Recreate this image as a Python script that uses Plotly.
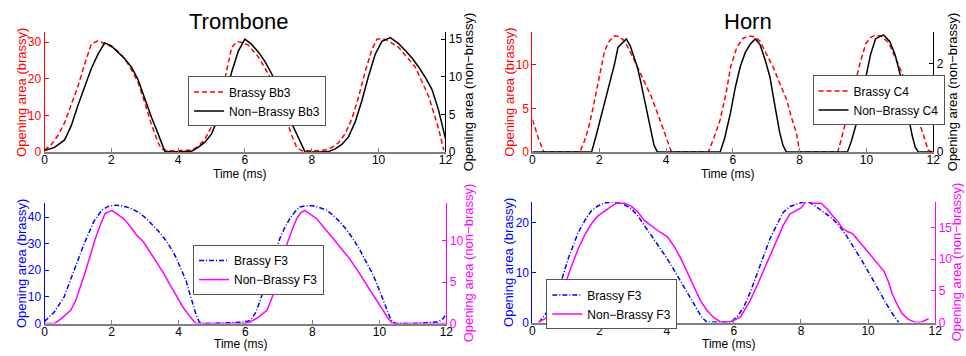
import plotly.graph_objects as go

# ---------------- Trombone, Bb3 ----------------
tb_bb3_brassy_t = [0, 0.2, 0.4, 0.6, 0.8, 1.0, 1.2, 1.4, 1.6, 1.8, 2.0, 2.2, 2.4, 2.6, 2.8, 3.0, 3.2, 3.4, 3.5,
                   3.7, 4.0, 4.4, 4.6, 4.8, 5.0, 5.2, 5.4, 5.6, 5.75, 5.9, 6.1, 6.4, 6.8, 7.0, 7.2, 7.4, 7.55,
                   7.7, 8.0, 8.4, 8.6, 8.8, 9.0, 9.2, 9.4, 9.6, 9.8, 9.95, 10.1, 10.25, 10.6, 11.1, 11.5, 11.8, 11.95]
tb_bb3_brassy = [0.5, 2, 4.5, 8, 13, 18, 24, 29.5, 30.4, 29.7, 28.8, 27.5, 25.5, 22.5, 19, 13.5, 7.5, 2.5, 0.8,
                 0.3, 0.3, 0.5, 1.5, 3.5, 7, 12.5, 20, 28.5, 30.2, 30, 29.2, 26, 19.7, 15.5, 10, 4.5, 1.2,
                 0.3, 0.3, 0.5, 1.2, 2.5, 5, 9, 15, 22, 28, 30.8, 31, 30.6, 28.6, 23.2, 15.2, 6.2, 0.5]

tb_bb3_plain_t = [0, 0.3, 0.6, 0.8, 1.0, 1.2, 1.4, 1.6, 1.8, 2.0, 2.2, 2.4, 2.6, 2.8, 3.0, 3.2, 3.4, 3.6, 3.8,
                  4.2, 4.4, 4.6, 4.8, 5.0, 5.2, 5.4, 5.6, 5.8, 6.0, 6.2, 6.4, 6.6, 6.8, 7.0, 7.2, 7.4, 7.6, 7.8,
                  8.2, 8.5, 8.7, 8.9, 9.1, 9.3, 9.5, 9.7, 9.9, 10.1, 10.35, 10.6, 10.8, 11.0, 11.2, 11.4, 11.6,
                  11.8, 12.0]
tb_bb3_plain = [0.2, 0.6, 1.6, 3.5, 6.2, 8.7, 11.1, 13, 14.5, 14.1, 13.3, 12.4, 11.3, 9.6, 7.1, 4.6, 2.4, 0.1, 0,
                0, 0.1, 0.6, 1.3, 2.4, 4.5, 7.3, 10.6, 13.4, 15, 14.3, 13.3, 12, 10.4, 8.3, 6.2, 3.8, 1.8, 0,
                0, 0.05, 0.4, 1, 2, 4, 6.8, 10.1, 13, 14.7, 15.2, 14.4, 13.5, 12.5, 11.3, 9.9, 8.3,
                5.5, 1.8]

# ---------------- Horn, C4 ----------------
hn_c4_brassy_t = [0, 0.1, 0.2, 0.34, 1.42, 1.55, 1.67, 1.8, 1.92, 2.05, 2.16, 2.3, 2.46, 2.6, 2.76, 2.95, 3.15,
                  3.35, 3.55, 3.7, 3.84, 4.0, 4.14, 4.2, 5.27, 5.45, 5.62, 5.8, 5.93, 6.12, 6.3, 6.47, 6.65,
                  6.81, 7.0, 7.21, 7.4, 7.61, 7.75, 7.9, 8.0, 9.14, 9.25, 9.38, 9.53, 9.68, 9.83, 9.98, 10.12,
                  10.27, 10.47, 10.67, 10.9, 11.16, 11.35, 11.56, 11.7, 11.85, 11.95]
hn_c4_brassy = [3.7, 2.5, 1.3, 0, 0, 1.2, 2.6, 4.8, 7.1, 9.5, 11.6, 12.7, 13.3, 13.2, 12.7, 11.3, 9.7,
                8.1, 6.4, 4.9, 3.4, 1.6, 0.2, 0, 0, 1.8, 3.7, 6.8, 9.7, 12, 13, 13.3, 13.2,
                12.7, 11.3, 9.7, 7.9, 6, 4, 2.2, 0, 0, 1.5, 3.4, 5.8, 8.2, 10.5, 12.4, 13.1,
                13.4, 13.2, 12.5, 10.5, 8.2, 6, 3.7, 2, 0.2, 0]

hn_c4_plain_t = [0, 1.77, 1.9, 2.06, 2.2, 2.36, 2.46, 2.56, 2.68, 2.81, 2.93, 3.05, 3.15, 3.25, 3.35, 3.45,
                 3.55, 3.64, 3.74, 5.62, 5.75, 5.93, 6.07, 6.22, 6.37, 6.52, 6.67, 6.81, 6.96, 7.11, 7.2, 7.3,
                 7.4, 7.5, 7.6, 9.43, 9.55, 9.68, 9.83, 9.98, 10.12, 10.27, 10.4, 10.52, 10.7, 10.86, 10.95,
                 11.05, 11.15, 11.26, 11.36, 11.46, 11.55, 12]
hn_c4_plain = [0, 0, 0.35, 0.81, 1.25, 1.7, 2.0, 2.37, 2.45, 2.56, 2.4, 2.15, 1.9, 1.56, 1.2, 0.82,
               0.45, 0.15, 0, 0, 0.3, 0.89, 1.45, 1.93, 2.25, 2.44, 2.56, 2.44, 2.1, 1.7, 1.3, 0.89,
               0.45, 0.15, 0, 0, 0.25, 0.6, 1.15, 1.7, 2.2, 2.56, 2.62, 2.65, 2.5, 2.2, 1.95,
               1.63, 1.25, 0.82, 0.4, 0.11, 0, 0]

# ---------------- Trombone, F3 ----------------
tb_f3_brassy_t = [0, 0.29, 0.58, 0.88, 1.17, 1.47, 1.71, 1.9, 2.06, 2.25, 2.45, 2.65, 2.85, 3.05, 3.24, 3.44,
                  3.64, 3.8, 3.93, 4.08, 4.23, 4.33, 4.43, 4.52, 4.62, 4.75, 5.0, 5.5, 5.85, 6.0, 6.15, 6.3,
                  6.44, 6.6, 6.74, 6.9, 7.03, 7.18, 7.33, 7.48, 7.63, 7.8, 8.02, 8.2, 8.42, 8.6, 8.81, 9.0,
                  9.2, 9.4, 9.6, 9.75, 9.89, 10.04, 10.19, 10.3, 10.38, 10.5, 11.0, 11.5, 11.76, 11.9, 12.0]
tb_f3_brassy = [0.8, 4.3, 9.9, 19.7, 29.6, 38.3, 42.6, 44, 44.4, 44.3, 43.8, 42.8, 41.4, 39.3, 37, 34.2,
                30.9, 27.8, 24.7, 20.5, 16, 11.5, 7.4, 3.5, 0.6, 0, 0, 0.2, 0.3, 0.6, 1.2, 4,
                8.6, 15, 21, 27, 32.1, 36.2, 39.5, 42, 43.8, 44.2, 44.2, 43.6, 42.6, 40.8, 38.3, 35.5,
                32.1, 28, 23.5, 19.8, 16, 11, 6.2, 2.8, 0.6, 0, 0, 0.3, 0.6, 1.8, 3.7]

tb_f3_plain_t = [0, 0.29, 0.5, 0.78, 0.93, 1.07, 1.22, 1.37, 1.51, 1.66, 1.81, 2.01, 2.2, 2.36, 2.55, 2.75,
                 2.95, 3.15, 3.34, 3.54, 3.73, 3.93, 4.13, 4.33, 4.52, 6.0, 6.15, 6.4, 6.64, 6.8, 6.94, 7.08,
                 7.23, 7.38, 7.53, 7.65, 7.77, 7.95, 8.12, 8.35, 8.61, 8.85, 9.1, 9.35, 9.6, 9.85, 10.09,
                 10.25, 10.38, 12]
tb_f3_plain = [0, 0, 0.6, 1.6, 2.8, 4.4, 6.3, 8.3, 10.2, 11.9, 13.3, 13.7, 13.2, 12.7, 11.8, 10.7,
               9.9, 8.7, 7.5, 6.2, 4.8, 3.4, 2, 0.9, 0, 0, 0.2, 0.8, 1.6, 3.2, 5.2, 7.4,
               9.5, 11.2, 12.7, 13.4, 13.7, 13.2, 12.7, 11.6, 10.3, 9.2, 7.9, 6.4, 4.8, 3.2, 1.6,
               0.7, 0, 0]

# ---------------- Horn, F3 ----------------
hn_f3_brassy_t = [0.19, 0.4, 0.6, 0.83, 1.07, 1.37, 1.57, 1.76, 1.95, 2.15, 2.35, 2.55, 2.75, 2.95, 3.15,
                  3.34, 3.54, 3.73, 3.93, 4.12, 4.32, 4.51, 4.71, 4.91, 5.05, 5.2, 5.9, 6.1, 6.29, 6.49,
                  6.69, 6.88, 7.08, 7.28, 7.47, 7.67, 7.87, 8.16, 8.36, 8.56, 8.75, 8.95, 9.15, 9.34, 9.59,
                  9.83, 10.08, 10.32, 10.52, 10.72, 10.91]
hn_f3_brassy = [0, 1.8, 4.5, 7.6, 12.9, 18.1, 20.5, 22.4, 23.3, 23.9, 24.1, 24.1, 23.5, 22.7, 21.2,
                19.4, 17.5, 15.5, 13.6, 11.6, 9.3, 7, 4.7, 2.4, 1, 0.1, 0.1, 1.2, 3, 6.1,
                9.6, 13.2, 16.8, 19.5, 22, 23.2, 23.7, 24.3, 23.6, 22.7, 21.7, 20.7, 19.2, 17.5, 14.9,
                12.2, 9.3, 6.3, 4, 1.8, 0]

hn_f3_plain_t = [0.19, 0.48, 0.72, 0.97, 1.17, 1.37, 1.56, 1.76, 1.95, 2.15, 2.35, 2.5, 2.74, 2.95, 3.14,
                 3.33, 3.53, 3.73, 4.02, 4.22, 4.42, 4.62, 4.81, 5.0, 5.2, 5.4, 5.6, 5.9, 6.2, 6.49, 6.69,
                 6.88, 7.08, 7.28, 7.47, 7.67, 7.85, 8.01, 8.16, 8.35, 8.6, 8.78, 8.95, 9.1, 9.24, 9.4,
                 9.54, 9.68, 9.83, 9.98, 10.13, 10.3, 10.47, 10.6, 10.72, 10.87, 11.01, 11.2, 11.41, 11.6,
                 11.8]
hn_f3_plain = [0.1, 0.9, 3.2, 6, 9, 11.7, 13.8, 15.6, 16.8, 17.6, 18.3, 18.8, 18.8, 18.3, 17.4,
               16.1, 15.3, 14.5, 13.5, 12, 10.1, 7.8, 5.5, 3.5, 1.9, 0.8, 0.1, 0.1, 0.9, 3.5, 5.8,
               8.1, 10.8, 13.2, 15.3, 17.1, 17.7, 18.1, 19.2, 18.8, 18.8, 17.9, 16.8, 15.9, 14.8, 14.3,
               14, 13.1, 12.2, 11.2, 10.2, 9.2, 8.1, 6.5, 4.5, 2.8, 1.4, 0.5, 0, 0.1,
               0.6]

time_ticks = [0, 2, 4, 6, 8, 10, 12]

FONT = "Liberation Sans, Arial, Helvetica, sans-serif"
W, H = 966, 356
RED, BLUE, MAGENTA, BLACK = "#ff0000", "#0000ff", "#ff00ff", "#000000"


def px_x(p):
    return p / W


def px_y(p):
    return 1 - p / H


# panel geometry in pixels: (left, right, top, bottom); title offsets in pixels
panels = [
    dict(box=(42, 447, 33, 155), yl=[0, 32.7], yr=[0, 15.9], ylt=[0, 10, 20, 30], yrt=[0, 5, 10, 15],
         cl=RED, cr=BLACK, leg=(187, 78), rt=23, tt=22),
    dict(box=(535, 940, 33, 155), yl=[0, 13.7], yr=[0, 2.71], ylt=[0, 5, 10], yrt=[0, 1, 2],
         cl=RED, cr=BLACK, leg=(818, 77), rt=19, tt=22),
    dict(box=(42, 448, 207, 330), yl=[0, 45.3], yr=[0, 14.6], ylt=[0, 10, 20, 30, 40], yrt=[0, 5, 10],
         cl=BLUE, cr=MAGENTA, leg=(192, 250), rt=22, tt=21),
    dict(box=(535, 942, 206, 329), yl=[0, 24.1], yr=[0, 19.0], ylt=[0, 10, 20], yrt=[0, 5, 10, 15],
         cl=BLUE, cr=MAGENTA, leg=(549, 285), rt=21, tt=22),
]

series = [
    (tb_bb3_brassy_t, tb_bb3_brassy, "Brassy Bb3", RED, "5px,3px",
     tb_bb3_plain_t, tb_bb3_plain, "Non\u2212Brassy Bb3", BLACK),
    (hn_c4_brassy_t, hn_c4_brassy, "Brassy C4", RED, "5px,3px",
     hn_c4_plain_t, hn_c4_plain, "Non\u2212Brassy C4", BLACK),
    (tb_f3_brassy_t, tb_f3_brassy, "Brassy F3", BLUE, "5px,2px,1px,2px",
     tb_f3_plain_t, tb_f3_plain, "Non\u2212Brassy F3", MAGENTA),
    (hn_f3_brassy_t, hn_f3_brassy, "Brassy F3", BLUE, "5px,2px,1px,2px",
     hn_f3_plain_t, hn_f3_plain, "Non\u2212Brassy F3", MAGENTA),
]

fig = go.Figure()
layout = dict(
    width=W, height=H, margin=dict(l=0, r=0, t=0, b=0),
    paper_bgcolor="white", plot_bgcolor="white",
    font=dict(family=FONT, size=12, color="black"),
    showlegend=True,
)
annotations = []

for i, (p, s) in enumerate(zip(panels, series)):
    n = i + 1
    xname = "x" if n == 1 else f"x{n}"
    yl_id, yr_id = 2 * i + 1, 2 * i + 2
    yl_name = "y" if yl_id == 1 else f"y{yl_id}"
    yr_name = f"y{yr_id}"
    leg_name = "legend" if n == 1 else f"legend{n}"
    l, r, t, b = p["box"]

    bt, by, bname, bcol, bdash, nt, ny, nname, ncol = s
    fig.add_trace(go.Scatter(x=bt, y=by, name=bname, mode="lines", xaxis=xname, yaxis=yl_name,
                             line=dict(color=bcol, width=1.5, dash=bdash), legend=leg_name))
    fig.add_trace(go.Scatter(x=nt, y=ny, name=nname, mode="lines", xaxis=xname, yaxis=yr_name,
                             line=dict(color=ncol, width=1.5), legend=leg_name))

    xkey = "xaxis" if n == 1 else f"xaxis{n}"
    layout[xkey] = dict(
        domain=[px_x(l), px_x(r)], anchor=yl_name, range=[0, 12], tickvals=time_ticks,
        ticks="inside", ticklen=4, tickcolor="#808080", showline=True, linecolor="#808080",
        linewidth=1.5, showgrid=False, zeroline=False, tickfont=dict(size=12, color="black"),
        ticklabelstandoff=-4, fixedrange=True,
    )
    ylkey = "yaxis" if yl_id == 1 else f"yaxis{yl_id}"
    layout[ylkey] = dict(
        domain=[px_y(b), px_y(t)], anchor=xname, range=p["yl"], tickvals=p["ylt"],
        ticks="inside", ticklen=4, tickcolor=p["cl"], showline=True, linecolor=p["cl"],
        linewidth=1, showgrid=False, zeroline=False, tickfont=dict(size=12, color=p["cl"]),
    )
    layout[f"yaxis{yr_id}"] = dict(
        overlaying=yl_name, anchor=xname, side="right", range=p["yr"], tickvals=p["yrt"],
        ticks="inside", ticklen=4, tickcolor=p["cr"], showline=True, linecolor=p["cr"],
        linewidth=1, showgrid=False, zeroline=False, tickfont=dict(size=12, color=p["cr"]),
    )
    lx, ly = p["leg"]
    layout[leg_name] = dict(
        x=px_x(lx), y=px_y(ly), xanchor="left", yanchor="top", bgcolor="white",
        bordercolor="#555555", borderwidth=1, font=dict(size=12, color="black"),
        itemwidth=30, tracegroupgap=0,
    )

    # axis titles
    mid_y = px_y((t + b) / 2)
    annotations.append(dict(text="Opening area (brassy)", x=px_x(l - 24), y=mid_y, xref="paper", yref="paper",
                            textangle=-90, showarrow=False, font=dict(size=13, color=p["cl"]),
                            xanchor="center", yanchor="middle"))
    annotations.append(dict(text="Opening area (non\u2212brassy)", x=px_x(r + p["rt"]), y=mid_y, xref="paper",
                            yref="paper", textangle=-90, showarrow=False, font=dict(size=13, color=p["cr"]),
                            xanchor="center", yanchor="middle"))
    annotations.append(dict(text="Time (ms)", x=px_x((l + r) / 2 - 5), y=px_y(b + p["tt"]), xref="paper",
                            yref="paper", showarrow=False, font=dict(size=12, color="black"),
                            xanchor="center", yanchor="middle", borderpad=0))

annotations.append(dict(text="Trombone", x=px_x(238), y=px_y(22), xref="paper", yref="paper", showarrow=False,
                        font=dict(size=22, color="black"), xanchor="center", yanchor="middle"))
annotations.append(dict(text="Horn", x=px_x(753), y=px_y(22), xref="paper", yref="paper", showarrow=False,
                        font=dict(size=22, color="black"), xanchor="center", yanchor="middle"))

layout["annotations"] = annotations
fig.update_layout(**layout)
fig.write_html("out.html")
